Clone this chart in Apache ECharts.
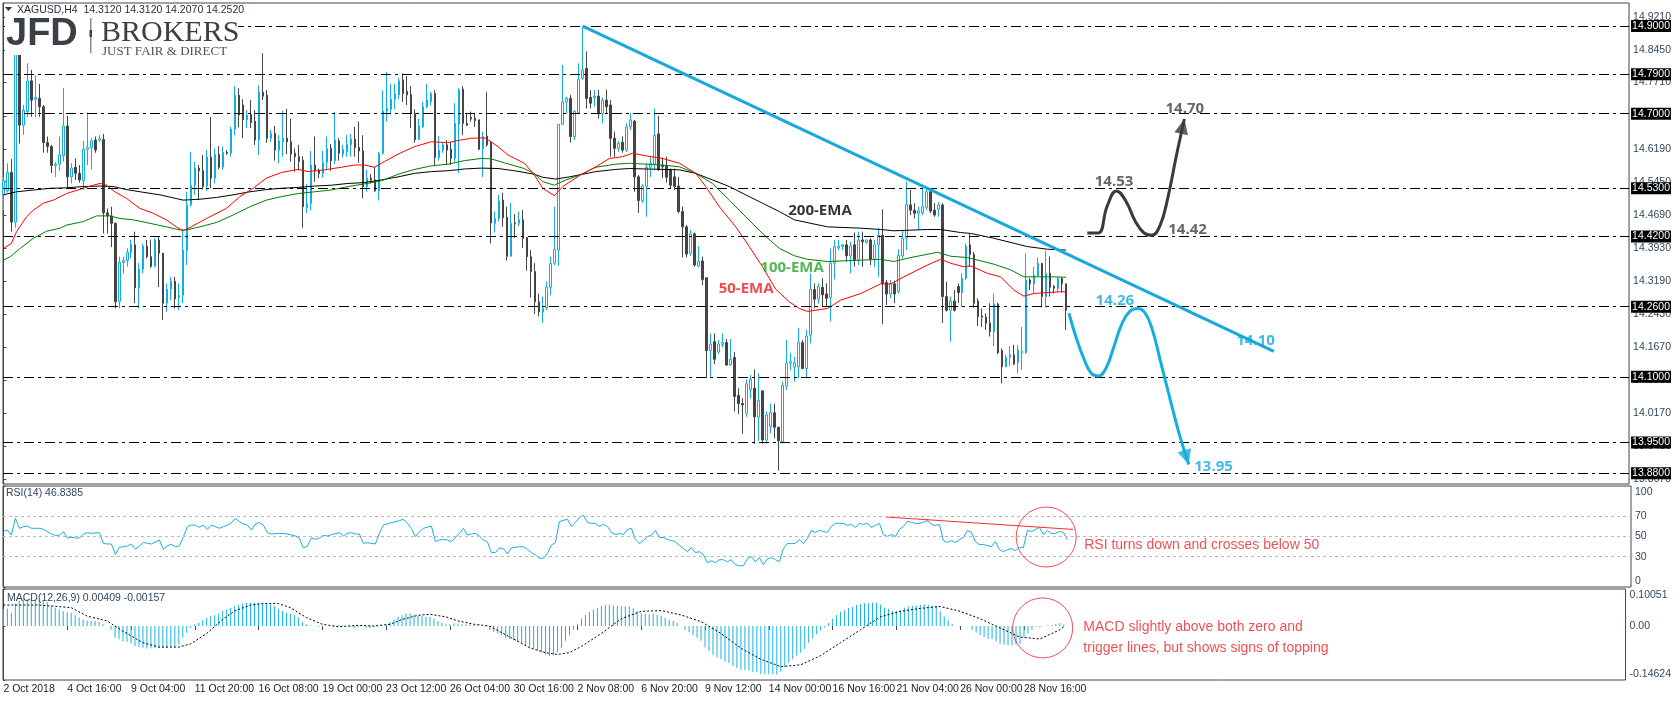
<!DOCTYPE html>
<html><head><meta charset="utf-8">
<script src="https://cdn.jsdelivr.net/npm/echarts@6/dist/echarts.min.js"></script>
<style>html,body{margin:0;padding:0;background:#fff}#c{width:1674px;height:701px}</style>
</head><body><div id="c"></div><script>
// ---------- DATA ----------
const tickIndex = [0,16,32,48,64,80,96,112,128,144,160,176,192,208,224,240,256];
const tickLabels = ['2 Oct 2018','4 Oct 16:00','9 Oct 04:00','11 Oct 20:00','16 Oct 08:00','19 Oct 00:00','23 Oct 12:00','26 Oct 04:00','30 Oct 16:00','2 Nov 08:00','6 Nov 20:00','9 Nov 12:00','14 Nov 00:00','16 Nov 16:00','21 Nov 04:00','26 Nov 00:00','28 Nov 16:00'];
// [open, high, low, close]
const candles = [
[14.515,14.556,14.480,14.547],[14.524,14.587,14.520,14.566],[14.566,14.597,14.431,14.453],[14.453,14.870,14.440,14.845],[14.840,14.860,14.632,14.674],
[14.674,14.720,14.652,14.708],[14.705,14.815,14.692,14.775],[14.775,14.800,14.693,14.731],[14.733,14.788,14.692,14.737],[14.735,14.768,14.693,14.716],
[14.716,14.720,14.611,14.634],[14.634,14.648,14.611,14.625],[14.625,14.629,14.565,14.582],[14.582,14.590,14.556,14.585],[14.585,14.648,14.570,14.606],
[14.604,14.759,14.591,14.672],[14.672,14.695,14.530,14.556],[14.556,14.587,14.541,14.576],[14.578,14.598,14.549,14.564],[14.564,14.583,14.543,14.549],
[14.547,14.638,14.527,14.619],[14.619,14.703,14.583,14.623],[14.623,14.644,14.573,14.638],[14.640,14.648,14.611,14.617],[14.640,14.651,14.636,14.643],
[14.641,14.654,14.427,14.474],[14.474,14.484,14.427,14.467],[14.467,14.488,14.396,14.450],[14.450,14.452,14.256,14.271],[14.272,14.374,14.256,14.361],
[14.361,14.374,14.336,14.365],[14.365,14.393,14.351,14.384],[14.384,14.412,14.370,14.402],[14.401,14.431,14.268,14.303],[14.303,14.359,14.256,14.345],
[14.345,14.404,14.336,14.398],[14.398,14.412,14.370,14.374],[14.374,14.413,14.348,14.352],[14.352,14.416,14.350,14.412],[14.412,14.420,14.305,14.382],
[14.382,14.382,14.230,14.268],[14.268,14.313,14.248,14.300],[14.300,14.328,14.275,14.318],[14.318,14.328,14.256,14.278],[14.281,14.313,14.252,14.286],
[14.286,14.435,14.268,14.389],[14.389,14.522,14.355,14.492],[14.492,14.613,14.488,14.537],[14.537,14.590,14.515,14.576],[14.576,14.583,14.503,14.570],
[14.570,14.606,14.527,14.534],[14.535,14.617,14.524,14.601],[14.601,14.693,14.530,14.553],[14.553,14.621,14.541,14.607],[14.607,14.626,14.573,14.578],
[14.578,14.625,14.572,14.612],[14.612,14.617,14.606,14.610],[14.610,14.670,14.602,14.665],[14.665,14.763,14.651,14.742],[14.742,14.758,14.669,14.697],
[14.720,14.733,14.644,14.686],[14.686,14.708,14.667,14.697],[14.698,14.731,14.667,14.680],[14.683,14.708,14.629,14.640],[14.640,14.765,14.606,14.749],
[14.749,14.838,14.731,14.740],[14.742,14.754,14.634,14.644],[14.644,14.663,14.636,14.655],[14.655,14.672,14.593,14.617],[14.617,14.651,14.587,14.638],
[14.636,14.707,14.602,14.644],[14.644,14.711,14.608,14.636],[14.636,14.689,14.591,14.608],[14.610,14.621,14.568,14.602],[14.602,14.629,14.571,14.591],
[14.594,14.603,14.440,14.488],[14.486,14.540,14.473,14.495],[14.495,14.615,14.480,14.583],[14.583,14.648,14.545,14.570],[14.571,14.575,14.553,14.564],
[14.564,14.615,14.554,14.589],[14.589,14.648,14.572,14.621],[14.621,14.631,14.570,14.593],[14.593,14.704,14.585,14.640],[14.638,14.644,14.593,14.610],
[14.608,14.629,14.600,14.619],[14.613,14.651,14.602,14.630],[14.629,14.654,14.602,14.642],[14.642,14.670,14.602,14.623],[14.623,14.682,14.588,14.615],
[14.615,14.651,14.507,14.534],[14.534,14.572,14.522,14.553],[14.553,14.562,14.541,14.549],[14.549,14.579,14.522,14.524],[14.524,14.613,14.502,14.610],
[14.610,14.753,14.606,14.706],[14.706,14.795,14.682,14.712],[14.710,14.768,14.699,14.733],[14.733,14.768,14.710,14.745],[14.743,14.781,14.733,14.775],
[14.777,14.792,14.727,14.746],[14.751,14.786,14.720,14.743],[14.743,14.763,14.667,14.701],[14.701,14.710,14.634,14.641],[14.641,14.689,14.640,14.673],
[14.670,14.727,14.667,14.716],[14.716,14.768,14.712,14.731],[14.728,14.750,14.718,14.746],[14.746,14.754,14.583,14.600],[14.600,14.649,14.593,14.617],
[14.617,14.634,14.611,14.629],[14.629,14.640,14.583,14.617],[14.619,14.636,14.583,14.598],[14.598,14.724,14.591,14.678],[14.676,14.758,14.565,14.754],
[14.756,14.763,14.651,14.678],[14.678,14.699,14.672,14.674],[14.692,14.705,14.682,14.688],[14.690,14.702,14.670,14.684],[14.686,14.686,14.617,14.619],
[14.620,14.659,14.556,14.648],[14.649,14.750,14.625,14.629],[14.635,14.636,14.404,14.451],[14.450,14.477,14.429,14.461],[14.461,14.515,14.454,14.501],
[14.503,14.520,14.442,14.463],[14.464,14.488,14.365,14.375],[14.375,14.497,14.374,14.450],[14.451,14.471,14.417,14.449],[14.450,14.477,14.444,14.458],
[14.458,14.480,14.394,14.416],[14.418,14.418,14.342,14.374],[14.374,14.389,14.281,14.340],[14.340,14.359,14.243,14.271],[14.271,14.290,14.238,14.248],
[14.248,14.283,14.223,14.256],[14.257,14.317,14.252,14.304],[14.304,14.374,14.286,14.359],[14.359,14.488,14.355,14.391],[14.389,14.676,14.353,14.676],
[14.676,14.811,14.674,14.727],[14.727,14.739,14.701,14.735],[14.735,14.743,14.634,14.648],[14.648,14.708,14.640,14.705],[14.702,14.815,14.699,14.778],
[14.781,14.899,14.777,14.800],[14.803,14.842,14.712,14.735],[14.737,14.754,14.712,14.724],[14.737,14.754,14.716,14.740],[14.740,14.754,14.689,14.700],
[14.700,14.737,14.678,14.731],[14.731,14.755,14.701,14.716],[14.720,14.731,14.602,14.644],[14.644,14.659,14.602,14.621],[14.621,14.638,14.613,14.632],
[14.635,14.648,14.611,14.617],[14.617,14.678,14.613,14.670],[14.670,14.701,14.663,14.686],[14.683,14.686,14.522,14.556],[14.556,14.560,14.474,14.502],
[14.502,14.540,14.496,14.535],[14.534,14.587,14.465,14.578],[14.578,14.602,14.556,14.587],[14.585,14.712,14.572,14.651],[14.654,14.695,14.570,14.572],
[14.582,14.600,14.553,14.579],[14.581,14.602,14.543,14.555],[14.573,14.575,14.530,14.537],[14.556,14.575,14.526,14.534],[14.535,14.556,14.473,14.477],
[14.477,14.488,14.372,14.442],[14.442,14.446,14.372,14.380],[14.382,14.435,14.376,14.426],[14.426,14.429,14.351,14.355],[14.353,14.398,14.350,14.364],
[14.364,14.374,14.309,14.322],[14.326,14.326,14.097,14.160],[14.160,14.199,14.100,14.174],[14.180,14.199,14.129,14.140],[14.157,14.184,14.152,14.175],
[14.174,14.199,14.167,14.178],[14.178,14.186,14.125,14.127],[14.127,14.186,14.125,14.140],[14.144,14.157,14.021,14.055],[14.058,14.074,14.015,14.039],
[14.039,14.051,13.970,14.036],[14.017,14.094,14.009,14.084],[14.071,14.104,14.051,14.094],[14.074,14.117,13.947,14.009],[14.008,14.108,13.954,14.046],
[14.068,14.068,13.947,13.956],[13.956,14.021,13.948,14.013],[13.986,14.039,13.971,14.018],[14.018,14.039,13.960,13.985],[13.985,13.986,13.886,13.954],
[13.952,14.089,13.948,14.081],[14.079,14.184,14.070,14.131],[14.131,14.154,14.115,14.135],[14.122,14.146,14.089,14.132],[14.123,14.211,14.097,14.178],
[14.178,14.184,14.117,14.119],[14.119,14.207,14.097,14.193],[14.195,14.336,14.176,14.299],[14.299,14.313,14.256,14.277],[14.277,14.313,14.267,14.306],
[14.304,14.325,14.260,14.287],[14.289,14.313,14.260,14.279],[14.281,14.393,14.226,14.359],[14.359,14.412,14.322,14.397],[14.395,14.412,14.389,14.398],
[14.397,14.403,14.389,14.401],[14.401,14.412,14.363,14.376],[14.376,14.408,14.336,14.398],[14.401,14.429,14.351,14.367],[14.367,14.431,14.355,14.412],
[14.412,14.431,14.351,14.408],[14.406,14.413,14.404,14.412],[14.412,14.416,14.355,14.368],[14.368,14.412,14.351,14.401],[14.401,14.439,14.328,14.423],
[14.423,14.482,14.220,14.313],[14.315,14.321,14.264,14.289],[14.289,14.321,14.279,14.312],[14.312,14.319,14.268,14.289],[14.294,14.391,14.290,14.377],
[14.376,14.435,14.370,14.416],[14.416,14.545,14.389,14.493],[14.492,14.526,14.469,14.480],[14.480,14.496,14.461,14.473],[14.473,14.488,14.435,14.478],
[14.474,14.530,14.469,14.488],[14.486,14.530,14.480,14.522],[14.522,14.526,14.473,14.478],[14.480,14.496,14.465,14.469],[14.482,14.499,14.465,14.492],
[14.492,14.496,14.223,14.283],[14.283,14.317,14.249,14.252],[14.252,14.283,14.180,14.273],[14.273,14.298,14.249,14.252],[14.306,14.313,14.268,14.292],
[14.292,14.336,14.260,14.325],[14.325,14.404,14.321,14.398],[14.401,14.427,14.351,14.379],[14.379,14.385,14.258,14.268],[14.273,14.279,14.216,14.237],
[14.239,14.256,14.214,14.236],[14.236,14.245,14.207,14.222],[14.223,14.268,14.192,14.203],[14.203,14.290,14.170,14.266],[14.266,14.269,14.152,14.155],
[14.160,14.165,14.085,14.123],[14.123,14.150,14.122,14.144],[14.144,14.170,14.125,14.150],[14.150,14.173,14.127,14.129],[14.132,14.173,14.108,14.161],
[14.155,14.214,14.116,14.158],[14.155,14.382,14.152,14.321],[14.321,14.325,14.298,14.312],[14.312,14.351,14.290,14.332],[14.330,14.372,14.328,14.359],
[14.359,14.359,14.258,14.283],[14.283,14.387,14.258,14.336],[14.336,14.374,14.283,14.304],[14.306,14.309,14.290,14.302],[14.301,14.328,14.294,14.324],
[14.324,14.328,14.292,14.312],[14.312,14.312,14.207,14.252]
];
// [bar index, value] read along each moving average
const ema50 = [[0,14.393],[2,14.404],[3.3,14.431],[5.8,14.465],[7.5,14.480],[10,14.496],[12.5,14.503],[15.8,14.518],[20,14.530],[22.5,14.537],[24.2,14.541],[25.8,14.537],[27.9,14.522],[30.8,14.507],[34.2,14.484],[37.5,14.473],[40.8,14.458],[43.3,14.442],[45,14.433],[47,14.442],[50.8,14.461],[55.8,14.484],[59.2,14.511],[62.5,14.530],[65.8,14.553],[69.6,14.566],[73.8,14.573],[76.3,14.568],[80.4,14.572],[84.6,14.578],[87.9,14.583],[90.4,14.583],[92.9,14.578],[95.4,14.591],[98.8,14.608],[102.9,14.625],[107.1,14.636],[111.3,14.634],[113.8,14.639],[117.1,14.644],[120.4,14.645],[122.1,14.636],[123.8,14.625],[126.3,14.606],[130.4,14.587],[132.9,14.560],[135,14.530],[137.9,14.513],[140,14.534],[144.2,14.559],[148.3,14.579],[151.7,14.598],[155,14.602],[157.5,14.610],[160.8,14.604],[165,14.598],[169.2,14.587],[173.3,14.564],[175.8,14.534],[179.2,14.488],[183.3,14.442],[186.7,14.397],[190,14.351],[193.3,14.300],[196.7,14.271],[199.2,14.256],[201.3,14.249],[206.3,14.256],[209.6,14.275],[214.6,14.290],[219.6,14.312],[222.1,14.312],[225.4,14.328],[231.3,14.355],[234.6,14.368],[237.1,14.359],[240.4,14.351],[242.1,14.353],[246.3,14.336],[249.6,14.328],[252.9,14.298],[255.4,14.284],[257.9,14.290],[264.6,14.294],[266,14.294]];
const ema100 = [[0,14.366],[1.7,14.374],[4.2,14.393],[7.5,14.416],[10.8,14.432],[14.2,14.439],[15.8,14.446],[20,14.454],[23.3,14.467],[26.7,14.467],[29.2,14.461],[32.5,14.458],[36.7,14.450],[40.8,14.442],[44.2,14.435],[45.8,14.435],[49.2,14.442],[53.3,14.452],[57.5,14.469],[61.7,14.488],[65.8,14.503],[69.6,14.511],[73.8,14.518],[77.9,14.522],[82.1,14.526],[86.3,14.534],[90.4,14.540],[94.6,14.547],[98.8,14.562],[102.9,14.573],[107.1,14.581],[111.3,14.585],[115.4,14.593],[119.6,14.598],[122.1,14.597],[125.4,14.588],[130.4,14.575],[132.9,14.563],[135,14.545],[137.9,14.537],[140.8,14.549],[144.2,14.560],[148.3,14.578],[153.3,14.585],[156.7,14.587],[160.8,14.585],[165,14.583],[169.2,14.579],[173.3,14.564],[177.5,14.541],[181.7,14.503],[185.8,14.465],[190,14.427],[194.2,14.393],[198,14.376],[201.3,14.368],[206.3,14.363],[214.6,14.366],[219.6,14.368],[222.9,14.363],[227.1,14.372],[233.8,14.384],[237.1,14.375],[241.3,14.372],[247.9,14.357],[252.1,14.344],[255.4,14.328],[262.9,14.328],[266,14.327]];
const ema200 = [[0,14.515],[3.3,14.522],[7.5,14.526],[11.7,14.530],[15.8,14.531],[20,14.534],[24.2,14.535],[27.5,14.534],[30.8,14.527],[34.2,14.522],[39.2,14.515],[45,14.503],[49.2,14.505],[53.3,14.509],[57.5,14.515],[61.7,14.522],[65.8,14.527],[69.6,14.530],[73.8,14.532],[77.9,14.535],[82.1,14.537],[86.3,14.541],[90.4,14.543],[94.6,14.549],[98.8,14.556],[102.9,14.564],[107.1,14.568],[111.3,14.570],[115.4,14.574],[119.6,14.576],[123.8,14.575],[127.9,14.570],[132.9,14.562],[135,14.555],[138.3,14.551],[141.7,14.556],[148.3,14.568],[153.3,14.573],[156.7,14.575],[165,14.573],[169.2,14.572],[173.3,14.564],[177.5,14.549],[181.7,14.534],[185.8,14.515],[190,14.496],[194.2,14.477],[198,14.458],[202.1,14.450],[206.3,14.442],[214.6,14.439],[219.6,14.436],[222.9,14.433],[231.3,14.436],[234.6,14.436],[239.6,14.429],[242.1,14.427],[247.9,14.416],[256.3,14.397],[261.3,14.391],[266,14.389]];
// RSI(14): [bar index, value]
const rsiEarly = [[0,54.8],[1,56.4],[2,51.5],[3,68.0],[4,58.1],[5,59.7],[6,60.4],[7,58.1],[9,58.1],[10,57.1],[11,54.8],[12,52.5],[13,51.2],[14,51.2],[15,54.8],[16,48.5],[17,49.2],[18,48.5],[19,48.5],[20,52.5],[21,53.8],[22,53.1],[24,53.8],[25,43.2],[26,42.6],[27,42.6],[28,32.3],[29,39.3],[30,39.9],[31,40.6],[32,42.6],[33,37.3],[34,40.6],[35,44.2],[36,43.2],[37,42.6],[39,46.5],[40,37.3],[41,40.9],[42,42.2],[43,39.9],[44,40.6],[45,49.8],[46,59.7],[47,61.4],[48,61.1],[49,59.1],[50,61.4],[51,57.1],[52,61.4],[54,58.1],[55,59.7],[56,61.4],[57,63.7],[58,68.0],[59,64.7],[60,62.4],[61,61.4],[62,56.4],[63,62.4],[64,63.7],[65,61.4],[66,53.8],[67,52.5],[69,53.1],[70,53.1],[71,52.5],[72,51.5],[73,50.5],[74,48.2],[75,38.6],[76,40.6],[77,48.5],[78,47.2],[79,48.5],[80,51.2],[81,50.5],[82,51.8],[84,53.8],[85,50.5],[86,53.1],[87,53.8],[88,52.5],[89,52.5],[90,43.2],[91,43.9],[92,43.2],[93,42.6],[94,53.1],[95,61.4],[96,62.4],[97,63.7],[99,65.7],[100,67.0],[101,63.0],[102,58.1],[103,49.8],[104,54.8],[105,58.1],[106,59.1],[107,60.4],[108,44.9],[109,46.5],[110,47.2],[111,46.5],[112,44.9],[114,53.1],[115,58.1],[116,51.5],[117,52.5],[118,53.1],[119,50.5],[120,46.5],[121,44.9],[122,34.0],[123,34.0],[124,38.6],[125,38.0],[126,32.7],[127,38.6],[129,39.9],[130,39.9],[131,37.3],[132,34.0],[133,31.7],[134,28.4],[135,28.4],[136,33.3],[137,41.6],[138,43.9],[139,64.7]];
const rsiLate = [66,67,60,64,69,71,64,63,63,60, 62,60,54,52,53,52,57,58,47,43, 46,50,51,56,49,49,47,46,45,41, 38,35,39,34,35,32,24,26,24,27, 27,25,27,22,21,21,28,30,25,29, 22,28,29,27,25,38,43,43,43,47, 43,48,56,54,56,55,54,60,63,63, 63,61,62,59,63,62,63,59,61,63, 52,50,52,50,57,60,65,64,63,63, 64,66,62,61,62,46,44,46,44,47, 49,56,54,45,42,42,41,40,45,37, 35,37,38,36,39,39,56,55,57,59, 52,56,53,53,55,54,46.84]; // bars 140..266
// MACD(12,26,9) main (histogram), one per bar
const macdMain = [0.047,0.047,0.036,0.061,0.068,0.072,0.072,0.074,0.072,0.071,0.068,0.065,0.054,0.050,0.045,0.041,0.038,0.036,0.029,0.023,
0.018,0.015,0.014,0.014,0.011,0.005,0.000,-0.009,-0.032,-0.036,-0.041,-0.043,-0.047,-0.054,-0.057,-0.059,-0.061,-0.061,-0.059,-0.059,
-0.059,-0.059,-0.056,-0.056,-0.050,-0.032,-0.018,-0.005,0.005,0.009,0.016,0.022,0.027,0.029,0.034,0.041,0.045,0.050,0.054,0.058,
0.061,0.063,0.063,0.063,0.063,0.062,0.061,0.058,0.054,0.047,0.041,0.036,0.033,0.029,0.023,0.011,0.005,0.002,0.000,-0.002,
-0.002,0.000,0.000,0.002,0.003,0.002,0.000,-0.002,-0.005,-0.002,0.000,-0.004,-0.005,-0.002,0.000,0.002,0.005,0.011,0.018,0.025,
0.029,0.034,0.034,0.032,0.027,0.027,0.025,0.025,0.020,0.014,0.009,0.005,0.005,0.007,0.007,0.005,0.005,0.004,0.003,0.002,
0.000,-0.002,-0.011,-0.016,-0.020,-0.025,-0.032,-0.036,-0.039,-0.043,-0.048,-0.052,-0.056,-0.061,-0.066,-0.072,-0.077,-0.081,-0.080,-0.072,
-0.060,-0.040,-0.025,-0.010,0.005,0.020,0.030,0.038,0.045,0.050,0.055,0.058,0.058,0.056,0.055,0.053,0.053,0.054,0.048,0.040,
0.035,0.033,0.032,0.034,0.030,0.027,0.022,0.018,0.014,0.008,0.000,-0.010,-0.016,-0.025,-0.032,-0.040,-0.058,-0.068,-0.078,-0.085,
-0.090,-0.096,-0.100,-0.108,-0.114,-0.118,-0.120,-0.120,-0.124,-0.125,-0.130,-0.130,-0.130,-0.130,-0.132,-0.124,-0.112,-0.100,-0.090,-0.080,
-0.072,-0.062,-0.045,-0.034,-0.022,-0.012,-0.004,0.008,0.020,0.030,0.038,0.043,0.049,0.052,0.057,0.060,0.062,0.062,0.063,0.064,
0.058,0.050,0.046,0.040,0.040,0.043,0.050,0.053,0.055,0.056,0.057,0.059,0.058,0.056,0.055,0.040,0.026,0.016,0.006,0.000,
-0.002,0.000,0.000,-0.010,-0.018,-0.024,-0.030,-0.035,-0.035,-0.042,-0.048,-0.050,-0.051,-0.052,-0.050,-0.048,-0.030,-0.020,-0.010,-0.002,
-0.004,0.000,0.002,0.003,0.006,0.008,0.00409];
const macdSignal = [[0,0.057],[9,0.057],[17,0.050],[21,0.027],[26,0.014],[30,-0.014],[35,-0.045],[39,-0.057],[44,-0.057],[47,-0.048],[51,-0.020],[55,0.018],[58,0.041],[62,0.057],[65,0.061],[69,0.061],[72,0.050],[76,0.023],[80,0.005],[84,-0.002],[89,0.002],[93,0.000],[97,0.005],[100,0.018],[104,0.029],[107,0.032],[111,0.025],[114,0.014],[118,0.005],[122,0.000],[125,-0.018],[129,-0.041],[132,-0.059],[136,-0.072],[139,-0.077],[142,-0.072],[145,-0.055],[150,-0.020],[155,0.020],[160,0.040],[165,0.042],[170,0.030],[175,0.012],[180,-0.020],[185,-0.060],[190,-0.090],[195,-0.110],[200,-0.105],[205,-0.080],[210,-0.045],[215,-0.010],[220,0.025],[225,0.040],[230,0.048],[235,0.053],[240,0.040],[245,0.020],[250,-0.005],[255,-0.030],[260,-0.035],[265,-0.010],[266,-0.00157]];
const priceLevels = [14.90,14.79,14.70,14.53,14.42,14.26,14.10,13.95,13.88];
const priceTicks = [14.921,14.845,14.771,14.695,14.619,14.545,14.469,14.393,14.319,14.243,14.167,14.093,14.017,13.941,13.867];
const rsiTicks = [0,30,50,70,100];
const macdTicks = [-0.14624,0,0.10051];
// drawn analysis
const trendline = [[145,14.90],[318,14.158]];
const bullPath = [[271.3,14.428],[274,14.428],[276.3,14.49],[278.6,14.524],[281,14.50],[283.3,14.455],[285.5,14.428],[287.4,14.423],[289.5,14.445],[291.5,14.51],[293.5,14.60],[295.6,14.688]];
const bearPath = [[266.7,14.245],[268.5,14.19],[270.5,14.14],[272.3,14.108],[274,14.102],[276,14.12],[278,14.17],[280,14.222],[282,14.25],[284,14.256],[285.8,14.245],[287.5,14.21],[289.5,14.14],[292,14.05],[294.3,13.97],[296.7,13.90]];
const mainNotes = [
  ['200-EMA',204.4,14.478,'#000000'],['100-EMA',197.4,14.349,'#28a428'],['50-EMA',185.9,14.302,'#ec1c24'],
  ['14.53',278,14.545,'#404040'],['14.70',295.7,14.712,'#404040'],['14.42',296.4,14.435,'#404040'],
  ['14.26',278.2,14.274,'#14a8de'],['14.10',313.4,14.183,'#14a8de'],['13.95',302.9,13.895,'#14a8de']
];
const rsiResist = [[220.7,69.3],[267.4,57.0]];
const rsiCircle = [260.7,49.5];
const macdCircle = [260.7,-0.005];

// ---------- CHART ----------
const FONT = 'Liberation Sans';
const BLUE = '#12aee2';
const DARK = '#444444';
const chart = echarts.init(document.getElementById('c'), null, {renderer:'canvas'});
const grids = [
  {left:3, top:3, width:1628, height:481},
  {left:3, top:486, width:1628, height:101},
  {left:3, top:589, width:1628, height:91}
];
const labelMap = {}; tickIndex.forEach((v,k)=>labelMap[v]=tickLabels[k]);
const xAxes = [0,1,2].map(k=>({
  type:'value', gridIndex:k, min:-0.1, max:406.9,
  splitLine:{show:false}, axisLine:{show:false},
  axisTick: k===2 ? {show:true, customValues:tickIndex, length:4, lineStyle:{color:'#444'}} : {show:false},
  axisLabel: k===2 ? {show:true, customValues:tickIndex, formatter:v=>labelMap[Math.round(v)]||'', align:'left', margin:4,
    fontSize:10.5, color:'#222', fontFamily:FONT} : {show:false}
}));
const yLabelBase = {fontSize:10.5, color:'#33465e', fontFamily:FONT, margin:4};
const richEnds = {t:{padding:[12,0,0,0],fontSize:10.5,fontFamily:FONT,color:'#33465e'},b:{padding:[0,0,12,0],fontSize:10.5,fontFamily:FONT,color:'#33465e'}};
const yAxes = [
  {type:'value', gridIndex:0, position:'right', min:13.8556, max:14.9525,
   splitLine:{show:false}, axisLine:{show:true, lineStyle:{color:'#444'}},
   axisTick:{show:true, customValues:priceTicks, length:3, lineStyle:{color:'#444'}},
   axisLabel:Object.assign({customValues:priceTicks, formatter:v=>v.toFixed(4)}, yLabelBase)},
  {type:'value', gridIndex:1, position:'right', min:0, max:100,
   splitLine:{show:false}, axisLine:{show:true, lineStyle:{color:'#444'}},
   axisTick:{show:true, customValues:rsiTicks, length:2, lineStyle:{color:'#444'}},
   axisLabel:Object.assign({customValues:rsiTicks, formatter:v=> v===100?'{t|100}':(v===0?'{b|0}':String(v)), rich:richEnds}, yLabelBase)},
  {type:'value', gridIndex:2, position:'right', min:-0.14624, max:0.10051,
   splitLine:{show:false}, axisLine:{show:true, lineStyle:{color:'#444'}},
   axisTick:{show:true, customValues:macdTicks, length:2, lineStyle:{color:'#444'}},
   axisLabel:Object.assign({customValues:macdTicks, formatter:v=> v>0.1?'{t|0.10051}':(v<-0.14?'{b|-0.14624}':'0.00'), rich:richEnds}, yLabelBase)}
];
const rsiData = rsiEarly.concat(rsiLate.map((v,k)=>[140+k, v]));
const lineS = (data, color, width, xi, extra) => Object.assign({type:'line', xAxisIndex:xi, yAxisIndex:xi, data, showSymbol:false, symbol:'none',
  silent:true, lineStyle:{color, width}, z:3}, extra||{});
const series = [
  {type:'candlestick', xAxisIndex:0, yAxisIndex:0, barWidth:2, silent:true, z:2,
   data: candles.map((c,i)=>[i, c[0], c[3], c[2], c[1]]),
   itemStyle:{color:'#ffffff', color0:DARK, borderColor:BLUE, borderColor0:DARK, borderWidth:1},
   markLine:{silent:true, symbol:'none', animation:false,
     lineStyle:{color:'#000', width:1, type:[10,4,3,4]},
     label:{show:true, position:'end', distance:2, backgroundColor:'#000', color:'#fff', fontSize:10.5, fontFamily:FONT, padding:[1,1,0,1], lineHeight:11},
     data: priceLevels.map(v=>({yAxis:v, label:{formatter:v.toFixed(4)}}))}},
  lineS(ema200, '#000000', 1, 0),
  lineS(ema100, '#008000', 1, 0),
  lineS(ema50, '#ff0000', 1, 0),
  lineS(trendline, '#17a9de', 3, 0, {z:5}),
  lineS(bullPath, '#3a3a3a', 3, 0, {smooth:0.45, z:6}),
  lineS(bearPath, '#12aee2', 3, 0, {smooth:0.45, z:6}),
  {type:'scatter', xAxisIndex:0, yAxisIndex:0, symbolSize:0, silent:true, z:7,
   data: mainNotes.map(n=>({value:[n[1],n[2]], label:{formatter:n[0], color:n[3]}})),
   label:{show:true, position:'inside', fontSize:15, fontWeight:'bold', fontFamily:'Open Sans'}},
  // RSI
  lineS(rsiData, '#1aaee0', 1, 1, {markLine:{silent:true, symbol:'none', label:{show:false},
    lineStyle:{color:'#b8b8b8', width:1, type:[3,3]}, data:[{yAxis:70},{yAxis:50},{yAxis:30}]}}),
  lineS(rsiResist, '#ff2a2a', 1, 1, {z:4}),
  {type:'scatter', xAxisIndex:1, yAxisIndex:1, silent:true, z:5, symbol:'circle', symbolSize:60,
   itemStyle:{color:'rgba(0,0,0,0)', borderColor:'#e8252a', borderWidth:1}, data:[rsiCircle], clip:false},
  {type:'scatter', xAxisIndex:1, yAxisIndex:1, silent:true, z:5, symbolSize:0, clip:false,
   data:[{value:[270.2,41.1]}],
   label:{show:true, position:'right', distance:0, formatter:'RSI turns down and crosses below 50', color:'#e8252a', fontSize:14, fontFamily:FONT}},
  // MACD
  {type:'bar', xAxisIndex:2, yAxisIndex:2, silent:true, barWidth:1, z:2,
   data: macdMain.map((v,i)=>[i,v]), itemStyle:{color:'#1ab2e2'}},
  lineS(macdSignal, '#000000', 1, 2, {lineStyle:{color:'#000', width:1, type:[2,2]}, z:4}),
  {type:'scatter', xAxisIndex:2, yAxisIndex:2, silent:true, z:5, symbol:'circle', symbolSize:60,
   itemStyle:{color:'rgba(0,0,0,0)', borderColor:'#e8252a', borderWidth:1}, data:[macdCircle], clip:false},
  {type:'scatter', xAxisIndex:2, yAxisIndex:2, silent:true, z:5, symbolSize:0, clip:false,
   data:[{value:[270.9,-0.032]}],
   label:{show:true, position:'right', distance:0, lineHeight:21,
     formatter:'MACD slightly above both zero and\ntrigger lines, but shows signs of topping', color:'#e8252a', fontSize:14, fontFamily:FONT}}
];
const option = {
  animation:false,
  backgroundColor:'#ffffff',
  grid: grids.map(g=>Object.assign({show:true, borderColor:'#444', borderWidth:1, backgroundColor:'transparent'}, g)),
  xAxis: xAxes, yAxis: yAxes, series,
  graphic: [
    {type:'rect', z:100, shape:{x:5, y:14, width:233, height:41}, style:{fill:'#fff'}},
    {type:'polygon', z:101, shape:{points:[[5,7],[12,7],[8.5,11]]}, style:{fill:'#333'}},
    {type:'text', z:101, x:17, y:10, style:{text:'XAGUSD,H4  14.3120 14.3120 14.2070 14.2520', font:'10.5px Liberation Sans', fill:'#1d2a3a', textVerticalAlign:'middle', verticalAlign:'middle'}},
    {type:'text', z:101, x:6, y:16, style:{text:'JFD', font:'bold 38px Liberation Sans', fill:'#3b4047', textVerticalAlign:'top', verticalAlign:'top'}},
    {type:'rect', z:101, shape:{x:90, y:18, width:1.5, height:35}, style:{fill:'#8a8d91'}},
    {type:'rect', z:101, shape:{x:89.5, y:30, width:2.5, height:7}, style:{fill:'#3b4047'}},
    {type:'text', z:101, x:101, y:18, style:{text:'BROKERS', font:'30px Liberation Serif', fill:'#3b4047', textVerticalAlign:'top', verticalAlign:'top'}},
    {type:'text', z:101, x:102, y:45, style:{text:'JUST FAIR & DIRECT', font:'13px Liberation Serif', fill:'#4e5359', textVerticalAlign:'top', verticalAlign:'top'}},
    {type:'text', z:101, x:6, y:493, style:{text:'RSI(14) 46.8385', font:'10.5px Liberation Sans', fill:'#33465e', textVerticalAlign:'middle', verticalAlign:'middle'}},
    {type:'text', z:101, x:7, y:598, style:{text:'MACD(12,26,9) 0.00409 -0.00157', font:'10.5px Liberation Sans', fill:'#33465e', textVerticalAlign:'middle', verticalAlign:'middle'}}
  ]
};
chart.setOption(option);
// arrowheads oriented along the last segment of each drawn path (computed through the axes)
function arrowHead(path, color) {
  const a = chart.convertToPixel({gridIndex:0}, path[path.length-2]);
  const b = chart.convertToPixel({gridIndex:0}, path[path.length-1]);
  const ang = Math.atan2(b[0]-a[0], -(b[1]-a[1]));
  const len = 15;
  const c = [b[0] - Math.sin(ang)*len/2, b[1] + Math.cos(ang)*len/2];
  return {value: chart.convertFromPixel({gridIndex:0}, c), symbolRotate: -ang*180/Math.PI, itemStyle:{color}};
}
chart.setOption({series: series.concat([{
  type:'scatter', xAxisIndex:0, yAxisIndex:0, silent:true, z:8, symbol:'triangle', symbolSize:[14,len=15], clip:false,
  data:[arrowHead(bullPath,'#3a3a3a'), arrowHead(bearPath,'#12aee2')]
}])});
var len;
</script></body></html>
